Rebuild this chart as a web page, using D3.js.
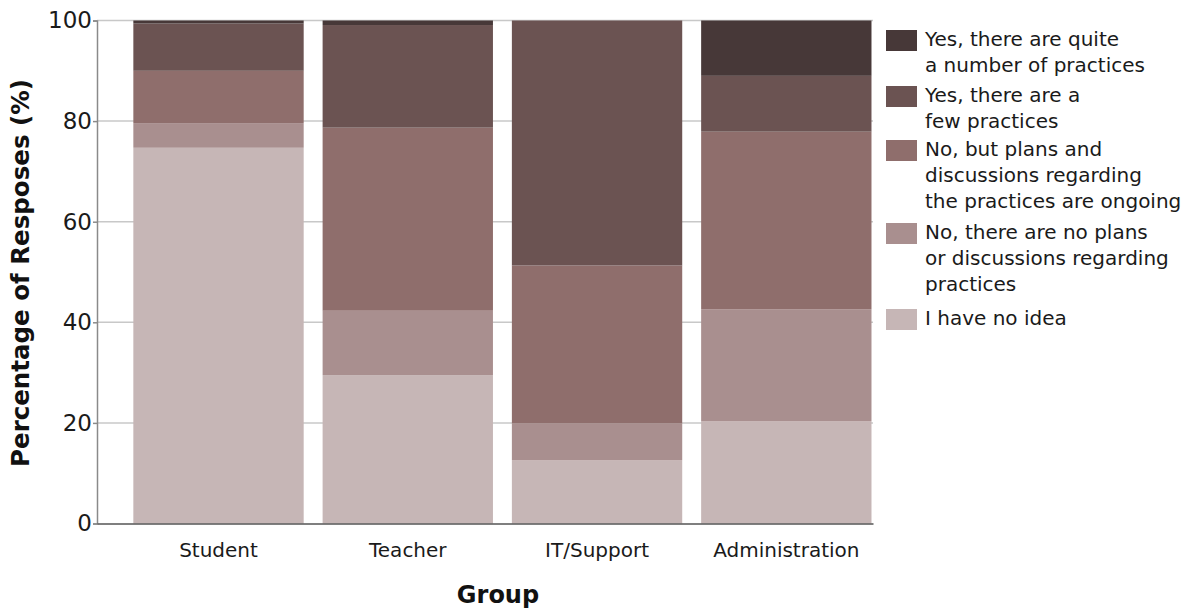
<!DOCTYPE html>
<html>
<head>
<meta charset="utf-8">
<script src="https://cdn.jsdelivr.net/npm/d3@7/dist/d3.min.js"></script>
<style>
  html, body { margin: 0; padding: 0; background: #fff; }
  svg { display: block; font-family: "DejaVu Sans", Verdana, sans-serif; }
</style>
</head>
<body>
<svg id="chart" width="1194" height="608"></svg>
<script>
// Survey groups along the x axis
const groups = ["Student", "Teacher", "IT/Support", "Administration"];

// Response categories, bottom of the stack first
const responses = [
  "I have no idea",
  "No, there are no plans or discussions regarding practices",
  "No, but plans and discussions regarding the practices are ongoing",
  "Yes, there are a few practices",
  "Yes, there are quite a number of practices"
];

// Share of responses (%) per group, one array per response category
const noIdea      = [74.7, 29.5, 12.6, 20.3];
const noPlans     = [4.9, 12.8, 7.3, 22.3];
const ongoing     = [10.4, 36.4, 31.4, 35.3];
const fewPractice = [9.4, 20.4, 48.7, 11.1];
const manyPractice= [0.6, 0.9, 0.0, 11.0];

const yTicks = [0, 20, 40, 60, 80, 100];

// Legend text, split into lines, top entry first
const legendLines = [
  ["Yes, there are quite", "a number of practices"],
  ["Yes, there are a", "few practices"],
  ["No, but plans and", "discussions regarding", "the practices are ongoing"],
  ["No, there are no plans", "or discussions regarding", "practices"],
  ["I have no idea"]
];

const colors = ["#c6b6b6", "#a98f8f", "#8f6e6c", "#6b5352", "#473838"];

const seriesValues = [noIdea, noPlans, ongoing, fewPractice, manyPractice];
const table = groups.map((g, i) => {
  const row = { group: g };
  responses.forEach((r, k) => { row[r] = seriesValues[k][i]; });
  return row;
});

const svg = d3.select("#chart");
const plotLeft = 97, plotRight = 873, plotTop = 20.5, plotBottom = 523.5;

const x = d3.scaleBand()
  .domain(groups)
  .range([plotLeft, plotRight])
  .paddingInner(0.1)
  .paddingOuter(0.1)
  .align(0.96);

const y = d3.scaleLinear().domain([0, 100]).range([plotBottom, plotTop]);

const color = d3.scaleOrdinal().domain(responses).range(colors);

// Horizontal grid lines
svg.append("g")
  .selectAll("line")
  .data(yTicks.filter(t => t > 0))
  .join("line")
  .attr("x1", plotLeft).attr("x2", plotRight)
  .attr("y1", d => y(d)).attr("y2", d => y(d))
  .attr("stroke", "#c8c8c8")
  .attr("stroke-width", 1.5);

// Stacked bars
const stacked = d3.stack().keys(responses)(table);
svg.append("g")
  .selectAll("g")
  .data(stacked)
  .join("g")
  .attr("fill", d => color(d.key))
  .selectAll("rect")
  .data(d => d)
  .join("rect")
  .attr("x", d => x(d.data.group))
  .attr("width", x.bandwidth())
  .attr("y", d => y(d[1]))
  .attr("height", d => y(d[0]) - y(d[1]));

// Y axis
const yAxis = svg.append("g")
  .attr("transform", `translate(${plotLeft},0)`)
  .call(d3.axisLeft(y).tickValues(yTicks).tickSize(4).tickPadding(1));
yAxis.select(".domain").attr("stroke", "#8a8a8a").attr("stroke-width", 1.5);
yAxis.selectAll(".tick line").attr("stroke", "#8a8a8a").attr("stroke-width", 1.5);
yAxis.selectAll(".tick text")
  .attr("font-size", 23)
  .attr("font-family", "DejaVu Sans")
  .attr("fill", "#1a1a1a");

// X axis
const xAxis = svg.append("g")
  .attr("transform", `translate(0,${plotBottom})`)
  .call(d3.axisBottom(x).tickSize(0).tickPadding(19));
xAxis.select(".domain").attr("stroke", "#555").attr("stroke-width", 1.5);
xAxis.selectAll(".tick text")
  .attr("font-size", 20)
  .attr("font-family", "DejaVu Sans")
  .attr("fill", "#1a1a1a");

// Axis titles
svg.append("text")
  .attr("x", (plotLeft + plotRight) / 2 + 13)
  .attr("y", 603)
  .attr("text-anchor", "middle")
  .attr("font-size", 24)
  .attr("font-weight", "bold")
  .attr("fill", "#111")
  .text("Group");

svg.append("text")
  .attr("transform", `translate(29,${(plotTop + plotBottom) / 2 + 1}) rotate(-90)`)
  .attr("text-anchor", "middle")
  .attr("font-size", 24.5)
  .attr("font-weight", "bold")
  .attr("fill", "#111")
  .text("Percentage of Resposes (%)");

// Legend
const legendTops = [30, 86, 140, 223, 309];
const legend = svg.append("g");
const legendColors = colors.slice().reverse();
legendLines.forEach((lines, i) => {
  const g = legend.append("g").attr("transform", `translate(886,${legendTops[i]})`);
  g.append("rect")
    .attr("width", 31).attr("height", 21)
    .attr("fill", legendColors[i]);
  const t = g.append("text")
    .attr("x", 39)
    .attr("y", 16)
    .attr("font-size", 20)
    .attr("fill", "#1a1a1a");
  lines.forEach((ln, j) => {
    t.append("tspan").attr("x", 39).attr("dy", j === 0 ? 0 : 26).text(ln);
  });
});
</script>
</body>
</html>
